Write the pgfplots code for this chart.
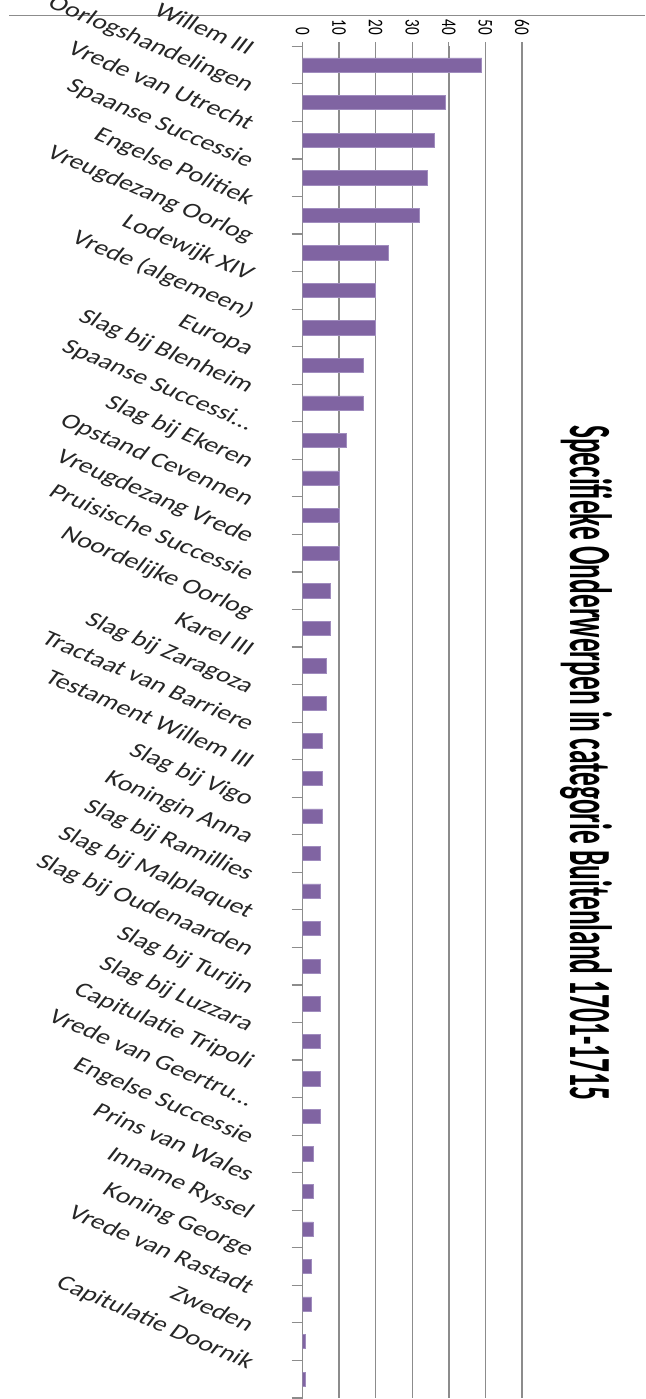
\documentclass[border=0pt]{standalone}
\usepackage{fontspec}
\setmainfont{Carlito}
\usepackage{graphicx}
\usepackage{pgfplots}
\pgfplotsset{compat=1.18}

\definecolor{barpurple}{RGB}{128,100,162}
\definecolor{baredge}{RGB}{160,140,190}
\definecolor{gridgray}{RGB}{140,140,140}

\begin{document}
\begin{tikzpicture}
  \useasboundingbox (0,0) rectangle (645pt,-1399pt);
  \clip (0,0) rectangle (645pt,-1399pt);

  % thin border line along the top
  \draw[gridgray, line width=1pt] (9pt,-15.7pt) -- (645pt,-15.7pt);

  \begin{axis}[
      at={(302.5pt,-46.3pt)}, anchor=north west,
      scale only axis,
      width=219.5pt, height=1351.7pt,
      xmin=0, xmax=60,
      ymin=0.5, ymax=36.5,
      xbar, bar width=14.3pt, bar shift=0pt,
      xtick={0,10,...,60},
      xtick pos=right, xticklabel pos=right,
      ytick pos=left,
      tick align=outside,
      major tick length=4pt,
      minor tick length=11pt,
      ytick={1,...,36},
      minor ytick={0.5,1.5,...,36.5},
      major y tick style={draw=none},
      tick style={gridgray, line width=1.2pt},
      yticklabels={Capitulatie Doornik, Zweden, Vrede van Rastadt, Koning George,
        Inname Ryssel, Prins van Wales, Engelse Successie, Vrede van Geertru…,
        Capitulatie Tripoli, Slag bij Luzzara, Slag bij Turijn, Slag bij Oudenaarden,
        Slag bij Malplaquet, Slag bij Ramillies, Koningin Anna, Slag bij Vigo,
        Testament Willem III, Tractaat van Barriere, Slag bij Zaragoza, Karel III,
        Noordelijke Oorlog, Pruisische Successie, Vreugdezang Vrede, Opstand Cevennen,
        Slag bij Ekeren, Spaanse Successi…, Slag bij Blenheim, Europa,
        Vrede (algemeen), Lodewijk XIV, Vreugdezang Oorlog, Engelse Politiek,
        Spaanse Successie, Vrede van Utrecht, Oorlogshandelingen, Willem III},
      yticklabel style={font=\fontsize{21}{21}\selectfont, color=black!85,
        anchor=base east, inner sep=0pt,
        xshift=-51pt, yshift=10pt, xscale=1.35, rotate=-30},
      xticklabel style={font=\fontsize{19}{19}\selectfont,
        yshift=7pt, xscale=1.1, yscale=0.8, rotate=-90, anchor=east, inner sep=0pt},
      /pgf/number format/assume math mode=true,
      xmajorgrids,
      grid style={gridgray, line width=1.5pt},
      separate axis lines,
      x axis line style={draw=none},
      y axis line style={gridgray, line width=1.5pt},
    ]
    \addplot[fill=barpurple, draw=baredge, line width=0.6pt] coordinates {
        (49,36) (39,35) (36,34) (34,33) (32,32) (23.5,31) (20,30) (20,29)
        (16.5,28) (16.5,27) (12,26) (10,25) (10,24) (10,23) (7.5,22) (7.5,21)
        (6.5,20) (6.5,19) (5.5,18) (5.5,17) (5.5,16) (5,15) (5,14) (5,13)
        (5,12) (5,11) (5,10) (5,9) (5,8) (3,7) (3,6) (3,5)
        (2.5,4) (2.5,3) (0.8,2) (0.8,1)
      };
  \end{axis}

  \node[rotate=-90, anchor=base west, inner sep=0pt] at (570pt,-425pt)
    {\resizebox{675pt}{42pt}{\bfseries Specifieke Onderwerpen in categorie Buitenland 1701-1715}};
\end{tikzpicture}
\end{document}
